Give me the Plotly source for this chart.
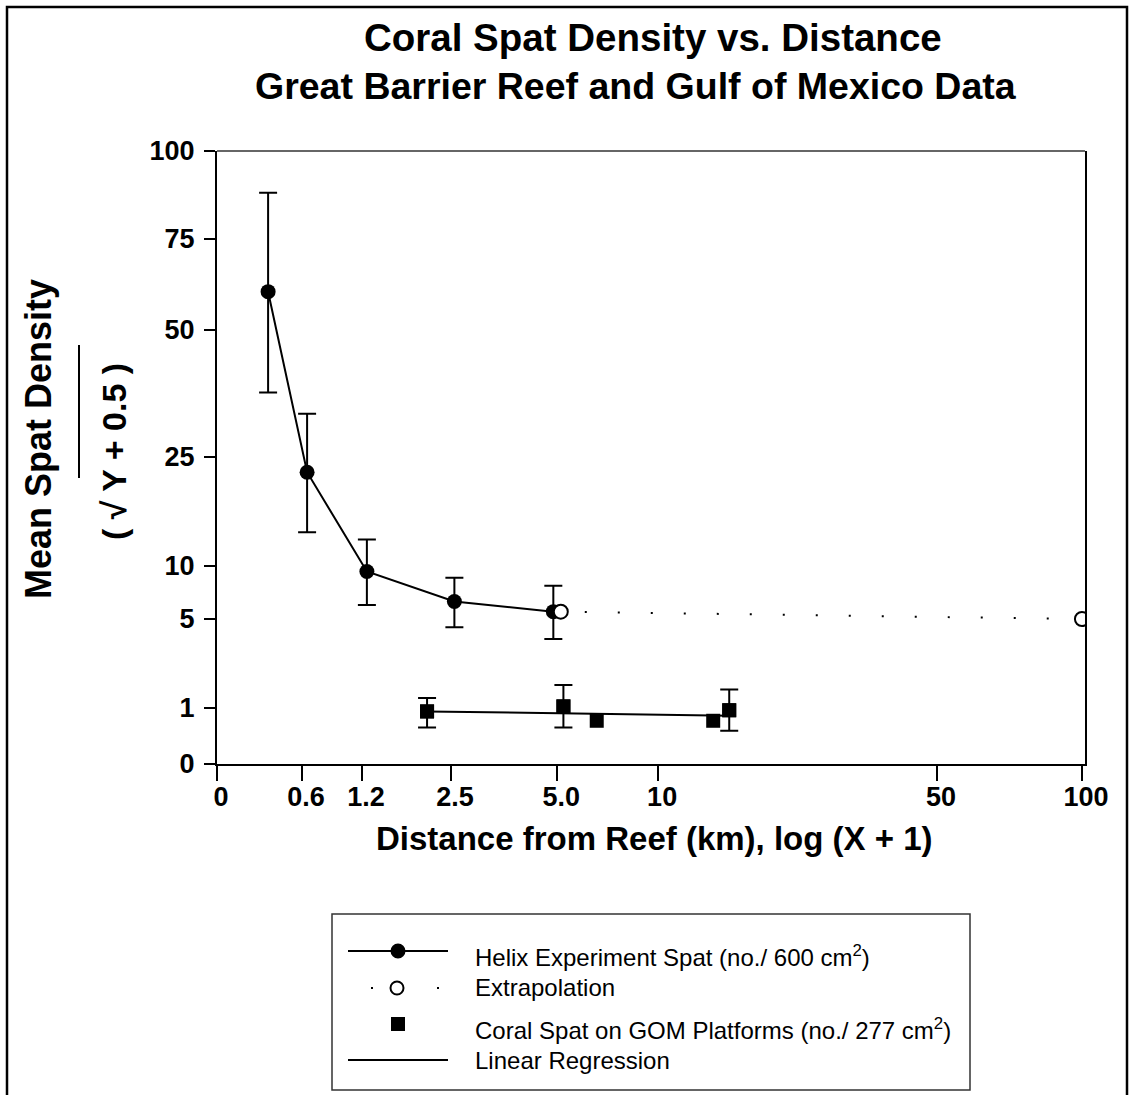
import numpy as np
import plotly.graph_objects as go

# ---------------- data ----------------
X_TICK_LABELS = [0, 0.6, 1.2, 2.5, 5.0, 10, 50, 100]
X_TICK_TEXT = ["0", "0.6", "1.2", "2.5", "5.0", "10", "50", "100"]
X_TICK_AT = [0.0, 0.197, 0.336, 0.542, 0.788, 1.022, 1.668, 2.004]   # log(X+1) axis units

Y_TICK_LABELS = [0, 1, 5, 10, 25, 50, 75, 100]
Y_TICK_TEXT = ["0", "1", "5", "10", "25", "50", "75", "100"]
Y_TICK_AT = [0.0, 0.918, 2.365, 3.235, 5.008, 7.080, 8.569, 10.0]    # sqrt axis units

HELIX_KM = [0.36, 0.65, 1.27, 2.58, 4.91]
HELIX_MEAN = [60.5, 22.9, 9.46, 6.64, 5.69]
HELIX_UPPER = [88.1, 33.5, 13.6, 8.87, 8.12]
HELIX_LOWER = [37.7, 14.6, 6.32, 4.63, 4.10]

EXTRAP_KM = [5.18, 100]
EXTRAP_MEAN = [5.69, 5.0]

GOM_KM = [2.15, 5.31, 6.96, 17.9, 20.2]
GOM_MEAN = [0.934, 1.06, 0.768, 0.768, 0.955]
GOM_UPPER = [1.44, 2.02, None, None, 1.82]
GOM_LOWER = [0.648, 0.648, None, None, 0.589]

REGRESSION_KM = [2.15, 20.2]
REGRESSION_FIT = [0.934, 0.857]


# ---------------- scales (defined by the drawn tick marks) ----------------
def xs(v):
    return np.interp(v, X_TICK_LABELS, X_TICK_AT)


def ys(v):
    return np.interp(v, Y_TICK_LABELS, Y_TICK_AT)


FONT = "Liberation Sans, Arial, Helvetica, sans-serif"
W, H = 1129, 1095
PL, PR, PT, PB = 217, 1085, 151, 764   # plot area in figure pixels


def fx(p):
    return (p - PL) / (PR - PL)


def fy(p):
    return (PB - p) / (PB - PT)


fig = go.Figure()

# Helix experiment
hm = ys(HELIX_MEAN)
fig.add_trace(go.Scatter(
    x=xs(HELIX_KM), y=hm, mode="lines+markers",
    line=dict(color="black", width=2),
    marker=dict(symbol="circle", size=15, color="black"),
    error_y=dict(type="data", symmetric=False,
                 array=ys(HELIX_UPPER) - hm, arrayminus=hm - ys(HELIX_LOWER),
                 color="black", thickness=2, width=9),
    showlegend=False, name="Helix Experiment Spat"))

# GOM error bars (only where available)
idx = [i for i, u in enumerate(GOM_UPPER) if u is not None]
gk = [GOM_KM[i] for i in idx]
gm = ys([GOM_MEAN[i] for i in idx])
gu = ys([GOM_UPPER[i] for i in idx])
gl = ys([GOM_LOWER[i] for i in idx])
fig.add_trace(go.Scatter(
    x=xs(gk), y=gm, mode="markers",
    marker=dict(symbol="square", size=14, color="black"),
    error_y=dict(type="data", symmetric=False, array=gu - gm, arrayminus=gm - gl,
                 color="black", thickness=2, width=9),
    showlegend=False, hoverinfo="skip"))

# Linear regression
fig.add_trace(go.Scatter(
    x=xs(REGRESSION_KM), y=ys(REGRESSION_FIT), mode="lines",
    line=dict(color="black", width=2), showlegend=False, name="Linear Regression"))

# GOM platforms
fig.add_trace(go.Scatter(
    x=xs(GOM_KM), y=ys(GOM_MEAN), mode="markers",
    marker=dict(symbol="square", size=14, color="black"),
    showlegend=False, name="Coral Spat on GOM Platforms"))

# Extrapolation
fig.add_trace(go.Scatter(
    x=xs(EXTRAP_KM), y=ys(EXTRAP_MEAN), mode="lines+markers",
    line=dict(color="black", width=2, dash="0px,24px,2px,7px"),
    marker=dict(symbol="circle", size=14, color="white", line=dict(color="black", width=2)),
    showlegend=False, name="Extrapolation"))

shapes = []
# outer frame
shapes.append(dict(type="rect", xref="paper", yref="paper",
                   x0=fx(7), x1=fx(1127), y0=fy(7), y1=fy(1110),
                   line=dict(color="black", width=2.5)))
# top border of plot
shapes.append(dict(type="line", xref="paper", yref="paper", x0=0, x1=1, y0=1, y1=1,
                   line=dict(color="#333333", width=1.3)))
# vinculum of the square root in y title
shapes.append(dict(type="line", xref="paper", yref="paper",
                   x0=fx(79), x1=fx(79), y0=fy(345), y1=fy(478),
                   line=dict(color="black", width=2)))
# legend box
shapes.append(dict(type="rect", xref="paper", yref="paper",
                   x0=fx(332), x1=fx(970), y0=fy(914), y1=fy(1090),
                   line=dict(color="#333333", width=1.5)))


def hline(xa, xb, yy):
    shapes.append(dict(type="line", xref="paper", yref="paper",
                       x0=fx(xa), x1=fx(xb), y0=fy(yy), y1=fy(yy),
                       line=dict(color="black", width=2)))


def glyph(kind, cx, cy, size, fill, lw=0):
    shapes.append(dict(type=kind, xref="paper", yref="paper",
                       xsizemode="pixel", ysizemode="pixel",
                       xanchor=fx(cx), yanchor=fy(cy),
                       x0=-size / 2, x1=size / 2, y0=-size / 2, y1=size / 2,
                       fillcolor=fill, line=dict(color="black", width=lw)))


hline(348, 448, 951)
glyph("circle", 398, 951, 15, "black")
glyph("rect", 372, 988, 2, "black")
glyph("rect", 438, 988, 2, "black")
glyph("circle", 397, 988, 13, "white", 2)
glyph("rect", 398, 1024, 14, "black")
hline(348, 448, 1060)

ann = []


def text(t, x, y, size, bold=False, angle=0, xanchor="center"):
    ann.append(dict(text=("<b>%s</b>" % t) if bold else t, xref="paper", yref="paper",
                    x=fx(x), y=fy(y), xanchor=xanchor, yanchor="middle",
                    showarrow=False, textangle=angle,
                    font=dict(family=FONT, size=size, color="black")))


text("Coral Spat Density vs. Distance", 653, 37, 38.5, bold=True)
text("Great Barrier Reef and Gulf of Mexico Data", 636, 86, 37.5, bold=True)
text("Distance from Reef (km), log (X + 1)", 654, 838, 33, bold=True)
text("Mean Spat Density", 38, 439, 36, bold=True, angle=-90)
text("( √ Y + 0.5 )", 114, 452, 34, bold=True, angle=-90)

text("Helix Experiment Spat (no./ 600 cm<sup>2</sup>)", 473, 956, 24, xanchor="left")
text("Extrapolation", 473, 987, 24, xanchor="left")
text("Coral Spat on GOM Platforms (no./ 277 cm<sup>2</sup>)", 473, 1029, 24, xanchor="left")
text("Linear Regression", 473, 1060, 24, xanchor="left")

tickfont = dict(family=FONT, size=27, color="black", weight="bold")

fig.update_layout(
    width=W, height=H,
    margin=dict(l=PL, r=W - PR, t=PT, b=H - PB, pad=0),
    paper_bgcolor="white", plot_bgcolor="white",
    showlegend=False,
    shapes=shapes, annotations=ann,
    xaxis=dict(range=[-0.0002, (PR - PL) / 431.6], tickmode="array",
               tickvals=X_TICK_AT, ticktext=X_TICK_TEXT,
               ticks="outside", ticklen=15, tickwidth=2, tickcolor="black",
               showline=True, linewidth=2, linecolor="black", mirror=False,
               showgrid=False, zeroline=False, tickfont=tickfont,
               ticklabelstandoff=-7, ticklabelshift=4),
    yaxis=dict(range=[-0.0002, 10.0002], tickmode="array",
               tickvals=Y_TICK_AT, ticktext=Y_TICK_TEXT,
               ticks="outside", ticklen=11, tickwidth=2, tickcolor="black",
               showline=True, linewidth=2, linecolor="black", mirror=True,
               showgrid=False, zeroline=False, tickfont=tickfont,
               ticklabelstandoff=4),
)

fig.write_html("out.html")
